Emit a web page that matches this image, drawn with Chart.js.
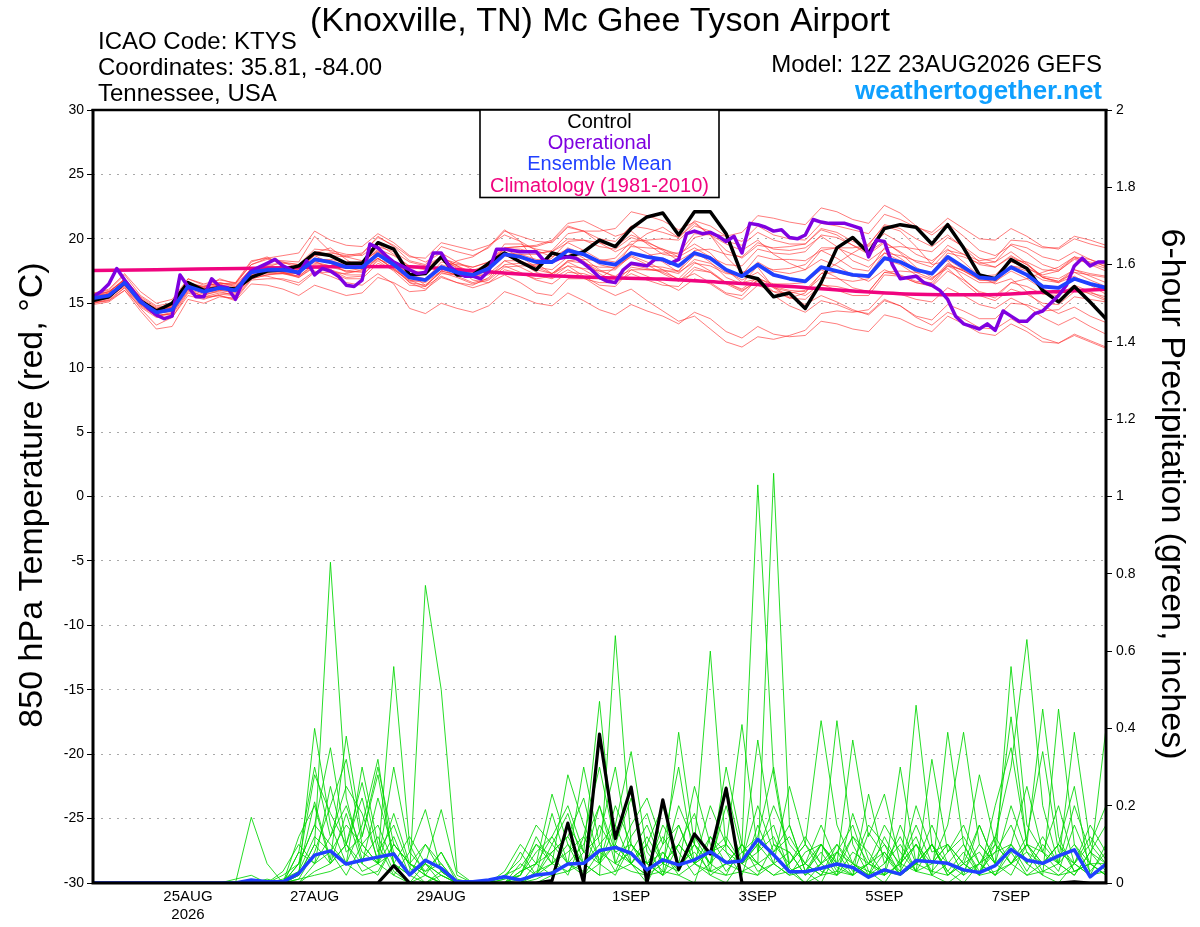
<!DOCTYPE html>
<html><head><meta charset="utf-8">
<script src="https://cdn.jsdelivr.net/npm/chart.js@4.4.0/dist/chart.umd.min.js"></script>
<style>html,body{margin:0;padding:0;background:#fff;}#wrap{width:1200px;height:927px;position:relative;}</style>
</head><body><div id="wrap"><canvas id="c" width="1200" height="927"></canvas></div>
<script>
// ---------- text ----------
const titleText = '(Knoxville, TN) Mc Ghee Tyson Airport';
const infoLeft = ['ICAO Code: KTYS', 'Coordinates: 35.81, -84.00', 'Tennessee, USA'];
const modelText = 'Model: 12Z 23AUG2026 GEFS';
const siteText = 'weathertogether.net';
const legendLabels = ['Control', 'Operational', 'Ensemble Mean', 'Climatology (1981-2010)'];
const leftAxisTitle = '850 hPa Temperature (red, \u00B0C)';
const rightAxisTitle = '6-hour Precipitation (green, inches)';

// ---------- axes ----------
const xTickHours = [36, 84, 132, 204, 252, 300, 348];
const xTickLabels = [['25AUG', '2026'], '27AUG', '29AUG', '1SEP', '3SEP', '5SEP', '7SEP'];
const tempTicks = [-30, -25, -20, -15, -10, -5, 0, 5, 10, 15, 20, 25, 30];
const precipTicks = [0, 0.2, 0.4, 0.6, 0.8, 1, 1.2, 1.4, 1.6, 1.8, 2];
const precipTickLabels = ['0', '0.2', '0.4', '0.6', '0.8', '1', '1.2', '1.4', '1.6', '1.8', '2'];

// forecast hours (from 12Z 23AUG2026)
const hours6 = [0,6,12,18,24,30,36,42,48,54,60,66,72,78,84,90,96,102,108,114,120,126,132,138,144,150,156,162,168,174,180,186,192,198,204,210,216,222,228,234,240,246,252,258,264,270,276,282,288,294,300,306,312,318,324,330,336,342,348,354,360,366,372,378,384];
const hours3 = [
 0,3,6,9,12,15,18,21, 24,27,30,33,36,39,42,45, 48,51,54,57,60,63,66,69, 72,75,78,81,84,87,90,93,
 96,99,102,105,108,111,114,117, 120,123,126,129,132,135,138,141, 144,147,150,153,156,159,162,165, 168,171,174,177,180,183,186,189,
 192,195,198,201,204,207,210,213, 216,219,222,225,228,231,234,237, 240,243,246,249,252,255,258,261, 264,267,270,273,276,279,282,285,
 288,291,294,297,300,303,306,309, 312,315,318,321,324,327,330,333, 336,339,342,345,348,351,354,357, 360,363,366,369,372,375,378,381, 384];
const hours24 = [0,24,48,72,96,120,144,168,192,216,240,264,288,312,336,360,384];

// ---------- 850 hPa temperature ----------
const controlTemp = [15.2,15.5,16.6,15.2,14.4, 15.0,16.6,16.0,16.2,16.1, 17.0,17.5,17.6,17.9,18.9, 18.7,18.1,18.1,19.7,19.2, 17.2,17.3,18.6,17.2,17.2, 18.1,18.9,18.2,17.6,18.9, 18.6,19.0,19.9,19.4,20.8, 21.7,22.0,20.3,22.1,22.1, 20.4,17.2,16.9,15.5,15.8, 14.6,16.6,19.3,20.1,18.9, 20.8,21.1,20.9,19.6,21.1, 19.3,17.2,16.9,18.4,17.7, 16.0,15.1,16.3,15.1,13.8];
const meanTemp = [15.4,15.6,16.6,15.1,14.3, 14.5,16.3,15.9,16.2,16.0, 17.4,17.6,17.6,17.4,18.4, 18.2,17.8,17.8,18.8,18.0, 17.0,16.8,17.8,17.4,17.2, 17.7,18.8,18.6,18.2,18.2, 19.1,18.8,18.2,18.0,18.9, 18.6,18.4,17.9,18.9,18.5, 17.6,17.1,18.0,17.2,16.9, 16.7,17.8,17.5,17.2,17.1, 18.5,18.2,17.6,17.3,18.6, 17.8,17.0,16.9,17.8,17.2, 16.3,16.2,16.9,16.5,16.2];
const operationalTemp = [
 15.5,15.9,16.5,17.7,16.8,16.0,15.2,14.6,
 14.1,13.8,14.0,17.2,16.3,15.5,15.5,16.9,
 16.3,16.2,15.3,16.8,17.5,17.8,18.1,18.4,
 17.9,17.6,17.3,18.3,17.2,17.7,17.5,17.1,
 16.4,16.3,16.8,19.6,19.3,18.7,18.2,17.9,
 17.6,17.3,17.4,18.9,18.9,17.9,17.4,17.1,
 17.1,16.9,17.5,19.2,19.2,19.1,19.0,19.0,
 19.0,18.3,18.2,18.5,18.6,18.5,18.1,17.6,
 17.0,16.7,16.6,17.6,18.1,18.0,17.9,18.4,
 18.4,18.1,18.4,20.4,20.6,20.4,20.5,20.2,
 19.8,20.2,18.9,21.2,21.1,20.9,20.6,20.7,
 20.1,20.0,20.3,21.5,21.3,21.2,21.2,21.2,
 21.0,20.8,18.6,19.9,19.8,18.0,16.9,17.0,
 17.1,16.6,16.4,16.0,15.3,14.0,13.4,13.2,
 13.0,13.4,12.9,14.4,14.0,13.6,13.6,14.2,
 14.4,15.0,15.6,16.4,17.9,18.5,17.9,18.2,
 18.2];
const climatologyTemp = [17.55,17.6,17.68,17.76,17.86,17.84,17.52,17.2,17.0,16.88,16.6,16.3,15.95,15.7,15.66,15.85,16.08];

const memberTemp01 = [15.8,16.0,17.2,15.6,14.8, 15.0,16.9,16.5,16.8,16.6, 18.0,18.4,18.3,18.2,20.2, 19.0,18.6,18.8,20.2,19.4, 18.3,18.0,19.4,19.0,18.7, 19.3,20.6,20.2,19.8,19.7, 20.9,20.6,20.0,19.8,21.0, 20.8,20.5,20.1,21.4,21.0, 20.2,19.8,21.0,20.3,20.0, 19.9,21.2,21.0,20.7,20.4, 21.9,21.5,20.9,20.5,21.6, 20.8,20.0,19.9,20.8,20.2, 19.4,19.2,20.0,19.6,19.3];
const memberTemp02 = [15.0,15.3,16.2,14.6,13.3, 13.9,15.8,15.4,15.6,15.3, 16.8,16.9,16.9,16.6,17.5, 17.1,16.6,16.4,17.3,16.5, 14.6,14.2,15.0,14.6,14.3, 14.8,15.9,15.5,15.0,14.8, 15.8,15.2,14.5,14.1,14.9, 14.4,14.0,13.4,14.3,13.8, 12.8,12.3,13.2,12.6,12.4, 12.5,13.6,13.4,13.0,12.8, 14.1,13.8,13.2,12.8,14.0, 13.4,12.7,12.5,13.4,12.8, 12.0,11.9,12.6,12.1,11.6];
const memberTemp03 = [15.3,15.8,16.9,15.4,14.0, 14.2,16.6,16.2,16.9,16.5, 18.2,18.6,17.9,17.2,18.9, 19.3,18.4,17.6,19.8,19.2, 17.3,16.4,17.5,18.3,18.6, 19.4,20.7,19.8,18.1,17.3, 18.2,17.6,16.9,17.8,19.5, 20.4,20.9,20.1,21.2,20.3, 18.6,17.4,17.8,16.2,15.4, 15.8,17.3,18.1,18.9,19.6, 21.0,20.6,19.4,18.0,18.3, 16.9,15.8,15.4,16.6,16.9, 17.4,17.8,18.6,18.0,17.5];
const memberTemp04 = [15.1,15.2,16.0,14.7,13.9, 13.9,15.6,15.3,15.7,15.6, 17.1,17.4,17.5,17.6,18.8, 18.9,18.7,18.9,20.1,19.5, 18.6,18.5,19.7,19.4,19.1, 19.5,20.3,19.8,19.1,18.6, 19.2,18.5,17.6,17.0,17.6, 17.1,16.6,16.0,16.9,16.5, 15.7,15.3,16.4,15.9,15.8, 16.0,17.3,17.4,17.1,17.2, 18.9,18.7,18.3,18.1,19.5, 18.8,18.0,17.8,18.6,18.0, 17.1,16.9,17.6,17.1,16.6];
const memberTemp05 = [15.5,15.5,16.3,14.9,14.2, 14.6,16.1,15.5,15.6,15.2, 16.5,16.4,16.1,15.6,16.4, 16.0,15.6,15.8,17.0,16.6, 15.9,16.0,17.3,17.2,17.3, 18.0,19.2,19.2,18.9,19.0, 20.0,19.9,19.4,19.2,20.1, 19.7,19.2,18.6,19.3,18.6, 17.5,16.8,17.4,16.3,15.5, 14.9,15.6,15.1,14.5,14.1, 15.2,14.8,14.0,13.7,14.9, 14.4,13.8,13.8,15.0,14.9, 14.4,14.5,15.5,15.3,15.1];
const memberTemp06 = [15.6,15.9,16.8,15.2,14.6, 14.9,16.5,16.3,16.6,16.3, 17.5,17.8,18.2,18.0,18.7, 18.1,17.4,17.5,18.5,17.7, 16.6,16.4,17.4,17.0,16.5, 16.8,17.8,17.9,17.9,18.5, 19.8,19.9,19.7,19.4,20.3, 19.8,19.1,18.3,19.0,18.2, 17.0,16.5,17.9,17.6,17.7, 18.0,19.3,19.3,18.8,18.3, 19.2,18.5,17.6,17.2,18.4, 17.6,16.8,16.8,17.9,17.5, 16.8,16.6,17.4,17.2,17.0];
const memberTemp07 = [15.2,15.4,16.5,15.0,14.4, 14.7,16.6,16.1,16.3,16.2, 17.7,17.9,17.7,17.4,18.2, 17.9,17.5,17.7,18.9,18.3, 17.5,17.4,18.5,18.1,17.8, 18.2,19.3,19.4,19.5,19.9, 21.2,21.4,20.8,20.2,20.6, 19.6,18.8,18.6,20.1,20.4, 20.2,20.5,21.8,21.6,21.3, 21.1,22.4,22.1,21.5,21.2, 22.6,22.0,21.0,20.3,21.2, 20.2,19.1,18.7,19.5,18.9, 18.0,17.6,18.6,18.4,18.0];
const memberTemp08 = [15.4,15.7,16.7,15.3,14.5, 14.6,16.4,16.0,16.4,16.3, 17.6,17.7,17.4,17.1,18.1, 17.9,17.7,17.9,19.0,18.3, 17.2,16.9,17.9,17.4,17.0, 17.3,18.3,17.8,17.2,16.9, 17.6,17.0,16.2,15.6,16.1, 15.2,14.4,13.6,14.0,13.0, 12.0,11.6,12.4,12.2,12.5, 12.9,14.2,14.4,14.3,14.5, 15.8,15.7,15.3,15.1,16.2, 15.6,14.9,14.6,15.4,14.8, 13.9,13.3,13.9,13.2,12.6];
const memberTemp09 = [14.9,15.1,16.0,14.4,13.0, 13.2,15.3,15.0,15.5,15.4, 16.9,17.2,17.4,17.3,18.3, 18.2,17.9,18.1,19.2,18.7, 17.9,17.7,18.6,17.9,17.2, 17.2,17.9,17.4,16.8,16.5, 17.4,17.3,16.9,16.9,18.0, 17.9,17.8,17.5,18.7,18.6, 18.0,17.9,19.2,18.9,18.8, 19.0,20.3,20.1,19.5,19.0, 19.8,18.9,17.8,17.0,17.7, 16.6,15.6,15.2,16.1,15.7, 15.0,14.9,15.9,15.8,15.5];
const memberTemp10 = [15.7,16.1,17.3,15.9,15.0, 15.3,16.9,16.4,16.5,16.0, 17.2,17.1,16.8,16.4,17.4, 17.4,17.3,17.6,18.8,18.1, 17.1,16.8,17.7,17.1,16.6, 16.9,18.0,18.1,18.0,18.3, 19.3,18.8,18.0,17.7,18.8, 18.7,18.9,18.9,20.4,20.3, 19.6,19.1,19.9,18.8,18.1, 17.6,18.4,17.9,17.2,16.7, 17.6,17.1,16.6,16.4,17.9, 17.6,17.1,17.2,18.4,18.2, 17.6,17.5,18.4,18.1,17.7];
const memberTemp11 = [15.3,15.4,16.4,15.0,14.1, 14.1,15.9,15.6,16.0,15.9, 17.3,17.5,17.8,17.9,19.0, 18.8,18.1,17.7,18.5,17.6, 16.7,16.8,18.2,18.0,17.8, 18.2,19.0,18.2,17.4,17.0, 17.9,17.7,17.5,17.6,18.7, 18.2,17.6,16.8,17.3,16.6, 15.8,15.6,16.9,16.5,16.5, 16.6,17.6,17.0,16.2,15.9, 17.4,17.5,17.4,17.4,18.9, 18.6,18.1,18.2,19.6,19.3, 18.6,18.3,19.0,18.4,17.8];
const memberTemp12 = [15.5,15.8,16.9,15.5,14.7, 14.8,16.6,16.2,16.5,16.6, 18.3,18.5,18.2,17.7,18.3, 17.6,17.0,17.1,18.4,18.0, 17.3,17.3,18.4,17.8,17.3, 17.9,19.6,19.6,19.2,19.0, 19.7,19.1,18.4,18.2,19.4, 19.3,19.2,18.8,19.6,18.9, 17.6,16.6,16.9,15.9,15.4, 15.3,16.4,16.3,16.0,15.9, 17.4,17.2,16.7,16.6,18.0, 17.5,16.8,16.7,17.5,16.9, 16.1,15.7,16.3,15.7,15.2];
const memberTemp13 = [15.2,15.5,16.5,14.9,14.0, 14.3,16.1,15.7,15.9,15.6, 16.9,17.2,17.3,17.3,18.4, 18.4,18.2,18.2,19.1,18.0, 16.8,16.3,17.1,16.6,16.2, 16.6,17.6,17.3,16.9,17.1, 18.3,18.4,18.3,18.5,19.8, 19.9,20.0,19.9,21.0,20.6, 19.8,19.5,20.5,19.9,19.6, 19.6,20.8,20.5,19.8,19.4, 20.4,19.7,18.8,18.3,19.2, 18.2,17.1,16.5,16.9,15.9, 14.8,14.2,14.7,14.0,13.5];
const memberTemp14 = [15.6,15.7,16.6,15.2,14.4, 14.8,16.6,16.3,16.6,16.4, 17.7,17.9,17.8,17.6,18.7, 18.7,18.6,18.3,19.0,17.9, 16.6,16.1,17.0,16.6,16.4, 17.0,18.3,18.3,17.8,17.6, 18.6,18.2,17.5,17.1,18.0, 17.7,17.4,16.9,18.1,17.9, 17.3,17.2,18.7,18.4,18.4, 18.3,19.1,18.5,17.7,17.5, 19.3,19.4,19.2,19.0,20.1, 19.4,18.5,18.2,19.0,18.1, 17.0,16.7,17.6,17.3,17.1];
const memberTemp15 = [15.1,15.4,16.4,15.0,14.2, 14.4,16.2,15.8,16.1,16.0, 17.6,18.0,18.1,18.0,19.2, 19.1,18.8,18.7,19.6,18.8, 17.8,17.6,18.5,17.7,16.8, 16.6,17.2,16.6,15.8,15.6, 16.9,16.9,16.6,16.6,17.8, 17.6,17.6,17.3,18.4,18.1, 17.4,17.0,18.2,17.5,17.3, 17.6,19.1,19.3,19.3,19.5, 21.1,20.8,20.0,19.4,20.3, 19.3,18.2,17.8,18.7,18.0, 17.0,16.7,17.4,16.8,16.3];
const memberTemp16 = [15.4,15.6,16.5,15.1,14.3, 14.6,16.3,15.8,16.0,15.8, 17.2,17.5,17.6,17.5,18.5, 18.3,18.0,18.1,19.4,19.0, 18.2,17.9,18.6,17.9,17.4, 17.9,19.3,19.4,19.4,19.8, 21.0,20.6,19.7,19.0,19.6, 18.9,18.2,17.4,18.2,17.5, 16.6,16.1,17.0,16.3,16.0, 15.9,17.0,16.9,16.7,16.9, 18.4,18.0,17.2,16.8,18.1, 17.5,16.9,17.0,18.2,17.8, 17.0,16.6,17.1,16.4,15.7];
const memberTemp17 = [15.7,15.9,16.9,15.4,14.6, 14.7,16.4,16.0,16.5,16.5, 18.0,18.5,18.7,18.9,20.6, 19.9,19.5,19.4,20.4,19.7, 18.7,18.2,18.9,18.2,17.6, 17.8,18.8,18.8,18.8,19.1, 20.4,20.6,20.6,20.8,22.1, 21.8,21.4,20.7,21.3,20.3, 19.1,18.5,19.5,19.3,19.4, 19.6,20.7,20.3,19.5,18.8, 19.7,19.0,18.2,17.8,19.1, 18.8,18.3,18.5,19.9,19.8, 19.3,19.3,20.2,19.9,19.5];
const memberTemp18 = [15.3,15.5,16.6,15.1,14.2, 14.4,16.3,16.0,16.3,16.1, 17.4,17.5,17.3,17.0,17.9, 17.6,17.2,17.2,18.3,17.5, 16.4,16.3,17.5,17.2,17.0, 17.6,18.9,18.8,18.4,18.3, 19.0,18.3,17.3,16.6,17.3, 16.8,16.4,16.3,17.6,17.4, 16.6,16.0,16.7,15.6,14.8, 14.3,15.2,14.9,14.4,14.2, 15.3,14.8,13.9,13.3,14.3, 13.8,13.1,13.0,13.8,13.1, 12.3,11.9,12.5,12.0,11.5];
const memberTemp19 = [15.0,15.2,16.2,14.8,14.0, 14.2,16.0,15.5,15.8,15.7, 17.1,17.3,17.3,17.1,18.0, 17.8,17.5,17.4,18.5,17.7, 16.9,16.8,18.0,17.6,17.5, 18.1,19.2,18.6,17.8,17.3, 17.9,17.1,16.4,16.3,17.6, 17.6,17.5,17.5,19.1,19.2, 18.8,18.6,19.7,19.2,19.1, 19.3,20.2,19.4,18.3,17.8, 18.9,18.3,17.4,16.9,17.9, 17.3,16.6,16.6,17.9,17.7, 17.2,17.5,18.5,18.2,17.9];
const memberTemp20 = [15.5,15.9,16.8,15.3,14.4, 14.7,16.5,16.1,16.4,16.1, 17.5,17.6,17.4,17.0,17.8, 17.4,16.9,16.9,18.1,17.6, 16.8,16.6,17.5,17.2,17.1, 17.7,18.7,18.3,17.6,17.3, 18.3,18.1,17.8,17.8,18.6, 18.0,17.3,16.7,17.8,17.4, 16.5,15.9,16.8,16.2,15.9, 15.6,16.5,16.0,15.6,15.6, 17.2,17.1,16.6,16.3,17.5, 16.8,15.9,15.6,16.6,16.3, 15.7,15.6,16.4,15.9,15.3];
const tempMembers = [memberTemp01,memberTemp02,memberTemp03,memberTemp04,memberTemp05,memberTemp06,memberTemp07,memberTemp08,memberTemp09,memberTemp10,memberTemp11,memberTemp12,memberTemp13,memberTemp14,memberTemp15,memberTemp16,memberTemp17,memberTemp18,memberTemp19,memberTemp20];

// ---------- 6-hour precipitation (inches) ----------
const controlPrecip = [0,0,0,0,0, 0,0,0,0,0, 0,0,0,0,0, 0,0,0,0,0.045, 0,0,0,0,0, 0,0,0,0,0.006, 0.155,0,0.385,0.115,0.248, 0,0.215,0.035,0.127,0.075, 0.245,0,0,0,0, 0,0,0,0,0, 0,0,0,0,0, 0,0,0,0,0, 0,0,0.003,0,0];
const meanPrecip = [0,0,0,0,0, 0,0,0,0,0, 0.008,0.003,0.003,0.025,0.072, 0.083,0.049,0.059,0.067,0.075, 0.021,0.059,0.038,0.003,0.003, 0.008,0.016,0.008,0.021,0.025, 0.049,0.051,0.084,0.092,0.077, 0.034,0.060,0.047,0.060,0.081, 0.053,0.057,0.113,0.073,0.029, 0.029,0.038,0.049,0.040,0.015, 0.034,0.023,0.058,0.055,0.051, 0.034,0.027,0.045,0.087,0.059, 0.051,0.070,0.086,0.016,0.049];
const memberPrecip01 = [0,0,0,0,0, 0,0,0,0,0, 0.17,0.05,0,0.02,0.1, 0.83,0.22,0.06,0.12,0.03, 0,0.02,0,0,0, 0,0.02,0.04,0.1,0.07, 0.02,0.12,0.3,0.1,0.05, 0,0.08,0.02,0,0.12, 0.05,0.1,1.03,0.28,0.04, 0,0.02,0.08,0.15,0.03, 0,0.06,0.12,0.02,0, 0.03,0.1,0.05,0.2,0.08, 0.02,0,0.05,0.12,0.06];
const memberPrecip02 = [0,0,0,0,0, 0,0,0,0,0.01, 0.02,0,0,0.08,0.3, 0.12,0.25,0.18,0.06,0.56, 0.1,0.02,0,0,0, 0,0,0.03,0.05,0.12, 0.2,0.08,0.47,0.05,0.15, 0.22,0.1,0.3,0.05,0.02, 0,0.06,0.2,0.08,0.15, 0.03,0.1,0.04,0.02,0.13, 0.07,0.02,0.46,0.1,0.03, 0,0.05,0.12,0.3,0.63, 0.2,0.05,0.02,0.08,0.15];
const memberPrecip03 = [0,0,0,0,0, 0,0,0,0,0, 0,0,0.01,0.03,0.21, 0.06,0.38,0.12,0.28,0.05, 0.02,0.77,0.5,0.03,0, 0,0,0.02,0.12,0.05, 0.28,0.15,0.06,0.1,0.22, 0.05,0.02,0.1,0.18,0.03, 0.25,0.08,0.05,1.06,0.15, 0.03,0,0.08,0.05,0.02, 0.12,0.04,0.2,0.08,0.1, 0.02,0.15,0.05,0.02,0.1, 0.45,0.12,0.03,0.05,0.4];
const memberPrecip04 = [0,0,0,0,0, 0,0,0,0,0, 0,0.01,0,0.12,0.2, 0.05,0.1,0.26,0.08,0.15, 0.04,0,0.02,0,0, 0,0.01,0.08,0.02,0.18, 0.05,0.3,0.1,0.03,0.12, 0.18,0.05,0.2,0.1,0.6, 0.08,0.02,0.15,0.05,0.25, 0.1,0.03,0.02,0.18,0.06, 0.02,0.3,0.05,0.1,0.03, 0.08,0.02,0.2,0.35,0.1, 0.05,0.1,0.25,0.02,0.05];
const memberPrecip05 = [0,0,0,0,0, 0,0,0,0,0, 0,0,0,0.02,0.4, 0.15,0.05,0.3,0.1,0.02, 0,0.05,0.19,0.02,0, 0,0,0,0.05,0.23, 0.1,0.05,0.02,0.64,0.1, 0.03,0.15,0.08,0.02,0.05, 0.1,0.41,0.08,0.12,0.03, 0,0.05,0.42,0.1,0.02, 0.05,0.12,0.03,0.32,0.08, 0.15,0.05,0.02,0.1,0.25, 0.08,0.03,0.15,0.05,0.02];
const memberPrecip06 = [0,0,0,0,0, 0,0,0,0,0, 0,0,0.02,0.05,0.15, 0.35,0.1,0.22,0.05,0.3, 0.08,0.19,0.03,0,0, 0,0,0.01,0.02,0.08, 0.12,0.22,0.05,0.15,0.34, 0.08,0.03,0.39,0.1,0.05, 0.2,0.05,0.37,0.1,0.08, 0.02,0.1,0.05,0.37,0.12, 0.23,0.05,0.1,0.02,0.39, 0.1,0.03,0.08,0.15,0.05, 0.02,0.45,0.1,0.03,0.08];
const memberPrecip07 = [0,0,0,0,0, 0,0,0,0,0, 0,0,0,0.01,0.08, 0.2,0.32,0.1,0.05,0.12, 0.02,0.1,0.05,0,0, 0,0.02,0.06,0.15,0.1, 0.18,0.05,0.2,0.08,0.1, 0.05,0.12,0.05,0.25,0.1, 0.03,0.08,0.12,0.3,0.05, 0.1,0.42,0.15,0.05,0.02, 0.08,0.03,0.1,0.05,0.15, 0.39,0.1,0.05,0.56,0.15, 0.08,0.05,0.39,0.1,0.05];
const memberPrecip08 = [0,0,0,0,0, 0,0,0,0,0, 0,0,0.03,0.1,0.05, 0.25,0.08,0.12,0.3,0.1, 0.05,0.03,0.08,0,0, 0,0.03,0.1,0.05,0.02, 0.15,0.08,0.12,0.3,0.05, 0.1,0.02,0.15,0.05,0.12, 0.08,0.05,0.1,0.15,0.03, 0.05,0.1,0.03,0.12,0.08, 0.02,0.15,0.05,0.1,0.02, 0.06,0.28,0.1,0.05,0.12, 0.34,0.08,0.05,0.1,0.2];
const memberPrecip09 = [0,0,0,0,0, 0,0,0,0,0, 0,0,0,0.05,0.15, 0.1,0.05,0.15,0.32,0.05, 0.12,0.05,0.02,0,0, 0,0,0.02,0.08,0.12, 0.05,0.1,0.2,0.05,0.08, 0.15,0.05,0.1,0.05,0.2, 0.1,0.05,0.08,0.2,0.1, 0.05,0.02,0.1,0.05,0.15, 0.1,0.02,0.05,0.15,0.05, 0.1,0.02,0.12,0.05,0.1, 0.08,0.2,0.05,0.02,0.1];
const memberPrecip10 = [0,0,0,0,0, 0,0,0,0,0, 0,0,0,0.02,0.1, 0.05,0.18,0.05,0.02,0.1, 0.05,0.02,0.08,0.01,0, 0,0,0.05,0.02,0.1, 0.05,0.03,0.15,0.08,0.05, 0.1,0.2,0.05,0.1,0.05, 0.02,0.1,0.05,0.08,0.12, 0.05,0.15,0.05,0.02,0.23, 0.05,0.1,0.03,0.05,0.1, 0.05,0.15,0.05,0.1,0.03, 0.1,0.05,0.2,0.08,0.05];
const memberPrecip11 = [0,0,0,0,0, 0,0,0,0,0, 0,0,0,0.05,0.28, 0.18,0.1,0.05,0.22,0.08, 0.02,0.05,0.02,0,0, 0,0,0,0.03,0.05, 0.1,0.02,0.05,0.2,0.1, 0.05,0.08,0.03,0.12,0.05, 0.3,0.1,0.05,0.02,0.05, 0.1,0.05,0.02,0.08,0.05, 0.15,0.08,0.03,0.1,0.05, 0.02,0.05,0.1,0.43,0.1, 0.05,0.1,0.05,0.15,0.08];
const memberPrecip12 = [0,0,0,0,0, 0,0,0,0,0, 0,0,0,0.08,0.05, 0.12,0.2,0.08,0.05,0.18, 0.05,0.1,0.03,0,0, 0,0,0.03,0.05,0.08, 0.12,0.05,0.1,0.15,0.05, 0.12,0.05,0.1,0.05,0.08, 0.12,0.05,0.1,0.05,0.02, 0.08,0.1,0.05,0.12,0.05, 0.02,0.05,0.1,0.03,0.08, 0.12,0.05,0.08,0.1,0.05, 0.12,0.05,0.1,0.05,0.05];
const memberPrecip13 = [0,0,0,0,0, 0,0,0,0,0, 0,0,0,0.03,0.12, 0.08,0.15,0.1,0.05,0.02, 0.08,0.03,0.05,0,0, 0,0.01,0.02,0.1,0.05, 0.08,0.12,0.05,0.1,0.05, 0.02,0.1,0.15,0.05,0.08, 0.1,0.05,0.02,0.1,0.05, 0.12,0.05,0.08,0.02,0.05, 0.1,0.05,0.15,0.05,0.1, 0.05,0.02,0.1,0.05,0.08, 0.05,0.1,0.03,0.05,0.02];
const memberPrecip14 = [0,0,0,0,0, 0,0,0,0,0, 0,0,0,0,0.05, 0.08,0.02,0.1,0.15,0.05, 0.02,0.05,0,0,0, 0,0,0,0.02,0.05, 0.03,0.08,0.05,0.02,0.1, 0.05,0.02,0.05,0.08,0.03, 0.05,0.1,0.03,0.05,0.08, 0.02,0.05,0.1,0.03,0.05, 0.08,0.02,0.05,0.1,0.02, 0.05,0.08,0.02,0.05,0.1, 0.03,0.05,0.02,0.08,0.03];
const memberPrecip15 = [0,0,0,0,0, 0,0,0,0,0, 0,0,0,0,0.03, 0.05,0.1,0.03,0.05,0.08, 0.02,0,0.03,0,0, 0,0,0,0.01,0.03, 0.05,0.02,0.08,0.05,0.03, 0.02,0.05,0.03,0.1,0.02, 0.05,0.03,0.02,0.05,0.02, 0.03,0.08,0.02,0.05,0.03, 0.02,0.05,0.03,0.02,0.05, 0.03,0.05,0.02,0.08,0.02, 0.05,0.02,0.03,0.05,0.02];
const memberPrecip16 = [0,0,0,0,0, 0,0,0,0,0, 0,0,0,0.01,0.02, 0.03,0.05,0.02,0.03,0.1, 0.05,0.02,0,0,0, 0,0,0,0,0.02, 0.03,0.05,0.02,0.03,0.05, 0.02,0.03,0.02,0.05,0.03, 0.02,0.03,0.05,0.02,0.03, 0.05,0.02,0.03,0.02,0.05, 0.03,0.02,0.05,0.03,0.02, 0.05,0.02,0.03,0.05,0.02, 0.03,0.02,0.05,0.02,0.03];
const precipMembers = [memberPrecip01,memberPrecip02,memberPrecip03,memberPrecip04,memberPrecip05,memberPrecip06,memberPrecip07,memberPrecip08,memberPrecip09,memberPrecip10,memberPrecip11,memberPrecip12,memberPrecip13,memberPrecip14,memberPrecip15,memberPrecip16];

// ---------- styles ----------
const FONT = '"Liberation Sans", Arial, Helvetica, sans-serif';
const C_CONTROL = '#000000', C_OPER = '#7f00e0', C_MEAN = '#2040ff', C_CLIM = '#f0047f';
const C_MEMBER_T = 'rgba(255,45,45,0.62)', C_MEMBER_P = 'rgba(0,215,0,0.85)';

function pts(xs, ys) { return ys.map((v, i) => ({ x: xs[i], y: v })); }

const datasets = [];
precipMembers.forEach((m, k) => datasets.push({ data: pts(hours6, m), yAxisID: 'y2', borderColor: C_MEMBER_P, borderWidth: 1, order: 20 }));
tempMembers.forEach((m, k) => datasets.push({ data: pts(hours6, m), yAxisID: 'y', borderColor: C_MEMBER_T, borderWidth: 1, order: 19 }));
datasets.push({ data: pts(hours24, climatologyTemp), yAxisID: 'y', borderColor: C_CLIM, borderWidth: 3.5, order: 5, cubicInterpolationMode: 'monotone' });
datasets.push({ data: pts(hours6, controlPrecip), yAxisID: 'y2', borderColor: C_CONTROL, borderWidth: 3.2, order: 4 });
datasets.push({ data: pts(hours6, controlTemp), yAxisID: 'y', borderColor: C_CONTROL, borderWidth: 3.5, order: 4 });
datasets.push({ data: pts(hours3, operationalTemp), yAxisID: 'y', borderColor: C_OPER, borderWidth: 3.5, order: 3 });
datasets.push({ data: pts(hours6, meanPrecip), yAxisID: 'y2', borderColor: C_MEAN, borderWidth: 3.5, order: 2 });
datasets.push({ data: pts(hours6, meanTemp), yAxisID: 'y', borderColor: C_MEAN, borderWidth: 3.8, order: 2 });

const decorPlugin = {
  id: 'decor',
  afterDraw(chart) {
    const ctx = chart.ctx, a = chart.chartArea;
    ctx.save();
    // frame
    ctx.strokeStyle = '#000';
    ctx.lineWidth = 3;
    ctx.beginPath();
    ctx.moveTo(a.left, a.top - 1); ctx.lineTo(a.left, a.bottom + 1.5);
    ctx.moveTo(a.right, a.top - 1); ctx.lineTo(a.right, a.bottom + 1.5);
    ctx.moveTo(a.left - 1.5, a.bottom); ctx.lineTo(a.right + 1.5, a.bottom);
    ctx.stroke();
    ctx.lineWidth = 2.5;
    ctx.beginPath(); ctx.moveTo(a.left - 1.5, a.top); ctx.lineTo(a.right + 1.5, a.top); ctx.stroke();

    // legend box
    const cx = (a.left + a.right) / 2;
    const bx = cx - 119.5, bw = 239, by = a.top, bh = 87.5;
    ctx.fillStyle = '#fff';
    ctx.fillRect(bx, by, bw, bh);
    ctx.lineWidth = 1.6;
    ctx.strokeRect(bx, by, bw, bh);
    ctx.textAlign = 'center';
    ctx.textBaseline = 'alphabetic';
    ctx.font = '20px ' + FONT;
    const lc = [C_CONTROL, C_OPER, C_MEAN, C_CLIM];
    const ly = [128, 149, 170, 192];
    legendLabels.forEach((t, i) => { ctx.fillStyle = lc[i]; ctx.fillText(t, cx, ly[i]); });

    // header
    ctx.fillStyle = '#000';
    ctx.font = '34px ' + FONT;
    ctx.textAlign = 'center';
    ctx.fillText(titleText, 600, 31);
    ctx.font = '24px ' + FONT;
    ctx.textAlign = 'left';
    ctx.fillText(infoLeft[0], 98, 49);
    ctx.fillText(infoLeft[1], 98, 75);
    ctx.fillText(infoLeft[2], 98, 101);
    ctx.textAlign = 'right';
    ctx.fillText(modelText, 1102, 72);
    ctx.font = 'bold 26px ' + FONT;
    ctx.fillStyle = '#0fa0ff';
    ctx.fillText(siteText, 1102, 99);

    // axis titles
    ctx.fillStyle = '#000';
    ctx.font = '34px ' + FONT;
    ctx.textAlign = 'center';
    ctx.textBaseline = 'middle';
    ctx.save(); ctx.translate(33, 495); ctx.rotate(-Math.PI / 2); ctx.fillText(leftAxisTitle, 0, 0); ctx.restore();
    ctx.save(); ctx.translate(1171, 494); ctx.rotate(Math.PI / 2); ctx.fillText(rightAxisTitle, 0, 0); ctx.restore();
    ctx.restore();
  }
};

new Chart(document.getElementById('c'), {
  type: 'line',
  data: { datasets },
  plugins: [decorPlugin],
  options: {
    responsive: false,
    animation: false,
    devicePixelRatio: 1,
    layout: { padding: { top: 110, left: 0, right: 0, bottom: 0 } },
    plugins: { legend: { display: false }, tooltip: { enabled: false }, title: { display: false } },
    elements: { point: { radius: 0 }, line: { tension: 0, borderJoinStyle: 'round', borderCapStyle: 'round', fill: false } },
    scales: {
      x: {
        type: 'linear', min: 0, max: 384, position: 'bottom',
        grid: { display: false, drawTicks: false },
        border: { display: false },
        afterBuildTicks: s => { s.ticks = xTickHours.map(v => ({ value: v })); },
        afterFit: s => { s.height = 44; },
        ticks: { autoSkip: false, maxRotation: 0, minRotation: 0, padding: 5, color: '#000', font: { family: FONT, size: 15 }, callback: (v, i) => xTickLabels[i] }
      },
      y: {
        position: 'left', min: -30, max: 30,
        afterBuildTicks: s => { s.ticks = tempTicks.map(v => ({ value: v })); },
        afterFit: s => { s.width = 93; },
        grid: { color: '#a8a8a8', lineWidth: 1, drawTicks: true, tickLength: 6, tickColor: '#000', tickWidth: 1 },
        border: { display: false, dash: [2, 6] },
        ticks: { padding: 3, color: '#000', font: { family: FONT, size: 14 }, callback: v => String(v) }
      },
      y2: {
        position: 'right', min: 0, max: 2,
        afterBuildTicks: s => { s.ticks = precipTicks.map(v => ({ value: v })); },
        afterFit: s => { s.width = 94; },
        grid: { drawOnChartArea: false, drawTicks: true, tickLength: 6, tickColor: '#000', tickWidth: 1 },
        border: { display: false },
        ticks: { padding: 4, color: '#000', font: { family: FONT, size: 14 }, callback: (v, i) => precipTickLabels[i] }
      }
    }
  }
});
</script>
</body></html>
